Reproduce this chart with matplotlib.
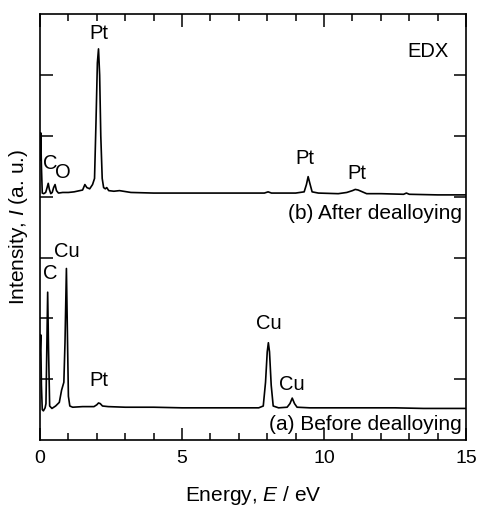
import matplotlib
matplotlib.use('Agg')
import matplotlib.pyplot as plt
from matplotlib.ticker import MultipleLocator, FixedLocator, NullFormatter

plt.rcParams['font.family'] = ['Liberation Sans', 'DejaVu Sans']
plt.rcParams['mathtext.fontset'] = 'custom'
plt.rcParams['mathtext.rm'] = 'Liberation Sans'
plt.rcParams['mathtext.it'] = 'Liberation Sans:italic'

#--------------- spectrum (a): before dealloying ---------------
energy_a = [0.00, 0.025, 0.05, 0.08, 0.12, 0.18, 0.21, 0.24, 0.27, 0.30, 0.34,
            0.42, 0.55, 0.68, 0.76, 0.84, 0.88, 0.93, 0.97, 1.00, 1.05, 1.15,
            1.5, 1.9, 2.0, 2.06, 2.12, 2.2, 2.4, 3.0, 4.0, 5.0, 6.0, 7.0, 7.7,
            7.86, 7.94, 8.0, 8.04, 8.08, 8.14, 8.21, 8.4, 8.7, 8.8, 8.88, 8.96,
            9.05, 9.5, 10.5, 11.5, 12.5, 13.5, 14.5, 15.0]
counts_a = [1.40, 1.73, 0.90, 0.50, 0.48, 0.53, 0.60, 1.50, 2.43, 1.50, 0.56,
            0.52, 0.56, 0.62, 0.82, 0.95, 1.60, 2.82, 1.60, 0.72, 0.56, 0.54,
            0.55, 0.55, 0.58, 0.61, 0.60, 0.56, 0.55, 0.54, 0.54, 0.53, 0.53, 0.53, 0.53,
            0.56, 0.95, 1.45, 1.60, 1.45, 0.90, 0.56, 0.53, 0.54, 0.60, 0.69, 0.60,
            0.54, 0.53, 0.53, 0.53, 0.53, 0.52, 0.52, 0.52]

#--------------- spectrum (b): after dealloying (already offset) ---------------
energy_b = [0.00, 0.025, 0.05, 0.08, 0.13, 0.20, 0.25, 0.29, 0.33, 0.38, 0.43,
            0.48, 0.53, 0.58, 0.65, 0.8, 1.0, 1.2, 1.4, 1.5, 1.58, 1.65, 1.75,
            1.85, 1.92, 1.97, 2.02, 2.06, 2.10, 2.14, 2.19, 2.24, 2.30, 2.35,
            2.42, 2.6, 2.8, 3.2, 4.0, 5.0, 6.0, 7.0, 7.9, 8.03, 8.15, 9.0, 9.3,
            9.38, 9.44, 9.5, 9.58, 9.8, 10.5, 10.8, 11.0, 11.1, 11.2, 11.35,
            11.5, 12.0, 12.8, 12.9, 13.0, 14.0, 15.0]
counts_b = [4.60, 5.05, 4.50, 4.06, 4.05, 4.07, 4.15, 4.22, 4.12, 4.05, 4.07,
            4.15, 4.20, 4.10, 4.06, 4.07, 4.07, 4.08, 4.10, 4.11, 4.20, 4.15, 4.13,
            4.20, 4.30, 5.20, 6.20, 6.43, 6.00, 5.00, 4.30, 4.15, 4.13, 4.15,
            4.10, 4.09, 4.10, 4.07, 4.06, 4.06, 4.06, 4.06, 4.06, 4.08, 4.06, 4.06, 4.08,
            4.20, 4.33, 4.22, 4.08, 4.06, 4.05, 4.07, 4.10, 4.12, 4.11, 4.08,
            4.05, 4.05, 4.04, 4.06, 4.04, 4.03, 4.03]

# peak labels: (text, energy, height)
labels_b = [('Pt', 2.08, 6.69), ('C', 0.35, 4.54), ('O', 0.81, 4.39),
            ('Pt', 9.33, 4.62), ('Pt', 11.16, 4.38)]
labels_a = [('Cu', 0.94, 3.10), ('C', 0.35, 2.74), ('Pt', 2.09, 0.98),
            ('Cu', 8.04, 1.92), ('Cu', 8.87, 0.92)]

fig = plt.figure(figsize=(4.79, 5.07), dpi=100)
ax = fig.add_axes([0.0835, 0.132, 0.8895, 0.840])

ax.plot(energy_a, counts_a, color='black', lw=1.2)
ax.plot(energy_b, counts_b, color='black', lw=1.2)

for txt, x, y in labels_a + labels_b:
    ax.text(x, y, txt, ha='center', va='center', fontsize=14.5)

ax.text(13.66, 6.39, 'EDX', ha='center', va='center', fontsize=14.5)
ax.text(14.84, 3.72, '(b) After dealloying', ha='right', va='center', fontsize=15)
ax.text(14.86, 0.25, '(a) Before dealloying', ha='right', va='center', fontsize=15)

ax.set_xlim(0, 15)
ax.set_ylim(0, 7)
ax.xaxis.set_major_locator(MultipleLocator(5))
ax.xaxis.set_minor_locator(MultipleLocator(1))
ax.yaxis.set_major_locator(FixedLocator([1, 2, 3, 4, 5, 6]))
ax.yaxis.set_major_formatter(NullFormatter())

ax.tick_params(which='both', direction='in', top=True, right=True, width=1.1)
ax.tick_params(which='major', length=9, labelsize=14, pad=7)
ax.tick_params(which='minor', length=5)
for s in ax.spines.values():
    s.set_linewidth(1.2)

ax.set_xlabel(r'Energy, $\it{E}$ / eV', fontsize=15)
ax.set_ylabel(r'Intensity, $\it{I}$ (a. u.)', fontsize=15)
ax.xaxis.set_label_coords(0.5, -0.104)
ax.yaxis.set_label_coords(-0.024, 0.5)

fig.savefig('out.png', dpi=100)
